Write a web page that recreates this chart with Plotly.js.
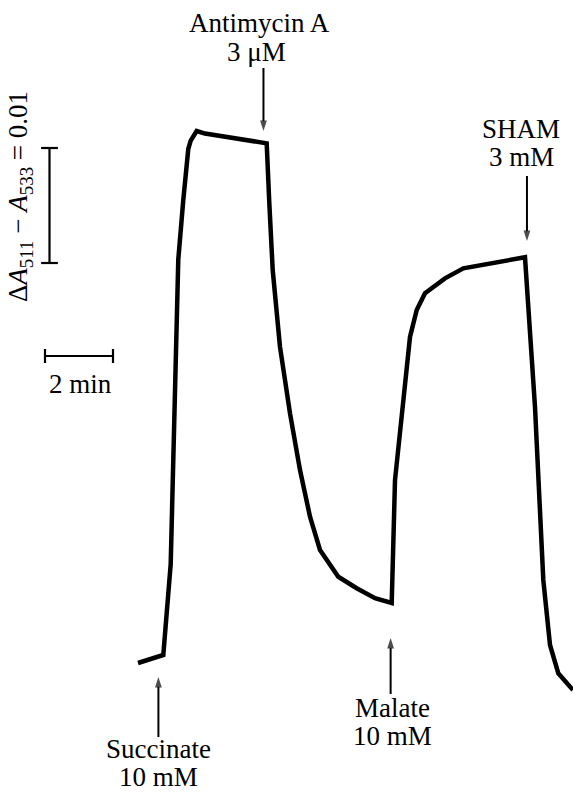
<!DOCTYPE html>
<html>
<head>
<meta charset="utf-8">
<script src="https://cdn.plot.ly/plotly-3.0.1.min.js"></script>
<style>html,body{margin:0;padding:0;background:#fff;}#chart{width:573px;height:794px;}</style>
</head>
<body>
<div id="chart"></div>
<script>
// Recording: time (min) and absorbance difference ΔA511 − A533
const timeMin = [0.0, 0.744, 0.962, 1.088, 1.185, 1.332, 1.479, 1.550, 1.726, 1.971, 2.609, 3.785,
  3.862, 3.962, 4.176, 4.471, 4.765, 5.059, 5.353, 5.891, 6.432, 6.971, 7.462,
  7.559, 8.0, 8.197, 8.441, 9.029, 9.568, 11.382,
  11.676, 11.921, 12.118, 12.362, 12.794];
const deltaA = [0.0, 0.0007, 0.00861, 0.02596, 0.03509, 0.04026, 0.04470, 0.04543, 0.04626, 0.04604, 0.04574, 0.04519,
  0.04000, 0.03417, 0.02750, 0.02171, 0.01678, 0.01272, 0.00983, 0.00750, 0.00650, 0.00563, 0.00522,
  0.01591, 0.02835, 0.03070, 0.03215, 0.03345, 0.03432, 0.03528,
  0.02229, 0.00722, 0.00157, -0.00090, -0.00235];

// Additions (label lines) and the recording times at which they were made
const additionNames = ["Succinate", "Antimycin A", "Malate", "SHAM"];
const additionConc = ["10 mM", "3 μM", "10 mM", "3 mM"];
const additionTime = [0.60, 3.69, 7.43, 11.44];

// Scale bars
const scaleBarDeltaA = 0.01;
const scaleBarMinutes = 2;

const W = 573, H = 794;
const pxPerMin = 34, pxPerUnit = 11500, x0px = 138, y0px = 663;
const xRange = [-x0px / pxPerMin, (W - x0px) / pxPerMin];
const yRange = [(y0px - H) / pxPerUnit, y0px / pxPerUnit];
const toX = px => (px - x0px) / pxPerMin;
const toY = py => (y0px - py) / pxPerUnit;

const font = {family: "'Liberation Serif', 'DejaVu Serif', serif", size: 27, color: "#000"};

const traces = [
  {x: timeMin, y: deltaA, mode: "lines", line: {color: "#000", width: 4.5}, hoverinfo: "skip"},
  {x: [toX(49.5), toX(49.5)], y: [toY(263), toY(263) + scaleBarDeltaA], mode: "lines+markers",
   line: {color: "#000", width: 2.2}, marker: {symbol: "line-ew", size: 12, line: {width: 2.2, color: "#000"}}, hoverinfo: "skip"},
  {x: [toX(45), toX(45) + scaleBarMinutes], y: [toY(356), toY(356)], mode: "lines+markers",
   line: {color: "#000", width: 2.2}, marker: {symbol: "line-ns", size: 10, line: {width: 2.2, color: "#000"}}, hoverinfo: "skip"}
];

// addition arrows: [tail pixel y, tip pixel y]
const arrowPx = [[737, 677], [68, 131], [694, 638], [176, 241]];
additionTime.forEach(function (t, i) {
  traces.push({
    x: [t, t], y: [toY(arrowPx[i][0]), toY(arrowPx[i][1])], mode: "lines+markers",
    line: {color: "#000", width: 2},
    marker: {symbol: "arrow", angleref: "previous", size: [0, 11], color: "#000", line: {width: 0}},
    hoverinfo: "skip"
  });
});

function label(text, px, py, extra) {
  return Object.assign({text: text, xref: "paper", yref: "paper", x: px / W, y: 1 - py / H,
    xanchor: "center", yanchor: "middle", showarrow: false, font: font}, extra || {});
}

const annotations = [
  label(additionNames[1], 259, 23), label(additionConc[1], 256, 52),
  label(additionNames[3], 521, 129), label(additionConc[3], 521, 157),
  label(additionNames[0], 158, 749), label(additionConc[0], 158, 777),
  label(additionNames[2], 392, 708), label(additionConc[2], 392, 736),
  label("2 min", 80, 384),
  label("Δ<i>A</i><sub>511</sub> − <i>A</i><sub>533</sub> = 0.01", 20, 197, {textangle: -90})
];

const layout = {
  width: W, height: H, margin: {l: 0, r: 0, t: 0, b: 0},
  paper_bgcolor: "#fff", plot_bgcolor: "#fff", showlegend: false,
  xaxis: {range: xRange, visible: false, fixedrange: true},
  yaxis: {range: yRange, visible: false, fixedrange: true},
  annotations: annotations
};

Plotly.newPlot("chart", traces, layout, {staticPlot: true, displayModeBar: false}).then(function (gd) {
  // drop empty placeholder text nodes left by the library
  gd.querySelectorAll("svg text").forEach(function (t) {
    if (!t.textContent || !t.textContent.trim()) t.parentNode.removeChild(t);
  });
});
</script>
</body>
</html>
